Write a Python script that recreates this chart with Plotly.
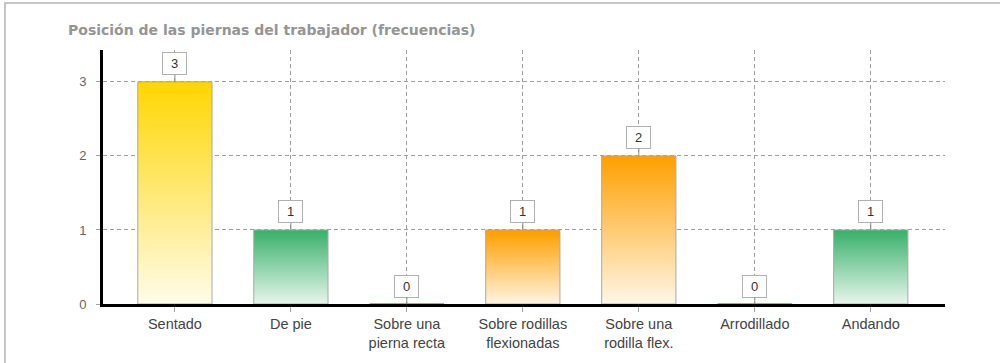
import plotly.graph_objects as go

# Frecuencias de la posición de las piernas
categorias = [
    "Sentado",
    "De pie",
    "Sobre una<br>pierna recta",
    "Sobre rodillas<br>flexionadas",
    "Sobre una<br>rodilla flex.",
    "Arrodillado",
    "Andando",
]
frecuencias = [3, 1, 0, 1, 2, 0, 1]
nivel = ["amarillo", "verde", "verde", "naranja", "naranja", "verde", "verde"]
ticks_y = [0, 1, 2, 3]

# Degradados (color inferior, color superior) para cada nivel
degradados = {
    "amarillo": ("#FFFCEC", "#FFD600"),
    "verde": ("#EEF9F2", "#3BB26C"),
    "naranja": ("#FFF8EC", "#FFA000"),
}

ANCHO_BARRA = 0.64

fig = go.Figure()

for i, (v, n) in enumerate(zip(frecuencias, nivel)):
    x0, x1 = i - ANCHO_BARRA / 2, i + ANCHO_BARRA / 2
    abajo, arriba = degradados[n]
    fig.add_trace(
        go.Scatter(
            x=[x0, x0, x1, x1, x0],
            y=[0, v, v, 0, 0],
            mode="lines",
            fill="toself",
            fillgradient=dict(
                type="vertical",
                colorscale=[[0, abajo], [1, arriba]],
                start=0,
                stop=v if v > 0 else 1,
            ),
            line=dict(color="#A8A8A8" if v > 0 else arriba, width=1),
            hoverinfo="skip",
            showlegend=False,
        )
    )

# Etiquetas de valor en recuadro sobre cada barra
for i, v in enumerate(frecuencias):
    fig.add_annotation(
        x=i,
        y=v,
        text=str(v),
        showarrow=True,
        arrowhead=0,
        arrowwidth=1,
        arrowcolor="#8C8C8C",
        ax=0,
        ay=-18,
        standoff=0,
        bgcolor="white",
        bordercolor="#B0B0B0",
        borderwidth=1,
        borderpad=3,
        width=17,
        height=15,
        font=dict(family="Liberation Sans, Arial, sans-serif", size=13, color="#333333"),
    )

# Marco exterior (solo bordes superior e izquierdo quedan a la vista)
fig.add_shape(
    type="rect",
    xref="paper",
    yref="paper",
    x0=(5 - 103) / 842,
    x1=(1010 - 103) / 842,
    y0=(307 - 375) / 257,
    y1=(307 - 2.5) / 257,
    line=dict(color="#B4B4B4", width=1.5),
    fillcolor="rgba(0,0,0,0)",
    layer="below",
)

fig.update_layout(
    width=1000,
    height=363,
    margin=dict(l=103, r=55, t=50, b=56),
    paper_bgcolor="white",
    plot_bgcolor="white",
    title=dict(
        text="Posición de las piernas del trabajador (frecuencias)",
        xref="container",
        yref="container",
        x=68 / 1000,
        xanchor="left",
        y=1 - 30 / 363,
        yanchor="middle",
        font=dict(family="DejaVu Sans", size=14, color="#959595", weight="bold"),
    ),
    xaxis=dict(
        range=[-0.62, 6.64],
        tickmode="array",
        tickvals=list(range(len(categorias))),
        ticktext=categorias,
        showgrid=True,
        gridcolor="#9E9E9E",
        gridwidth=1,
        griddash="4px,3px",
        zeroline=False,
        showline=True,
        linecolor="black",
        linewidth=3,
        ticks="outside",
        ticklen=5,
        tickcolor="#A0A0A0",
        tickfont=dict(family="Liberation Sans, Arial, sans-serif", size=14.5, color="#444444"),
        fixedrange=True,
    ),
    yaxis=dict(
        range=[0, 3.43],
        tickmode="array",
        tickvals=ticks_y,
        showgrid=True,
        gridcolor="#9E9E9E",
        gridwidth=1,
        griddash="4px,3px",
        zeroline=False,
        showline=True,
        linecolor="black",
        linewidth=3,
        ticks="outside",
        ticklen=4,
        tickcolor="#A0A0A0",
        ticklabelstandoff=7,
        tickfont=dict(family="Liberation Sans, Arial, sans-serif", size=13, color="#666666"),
        fixedrange=True,
    ),
)

fig.write_html("out.html")
